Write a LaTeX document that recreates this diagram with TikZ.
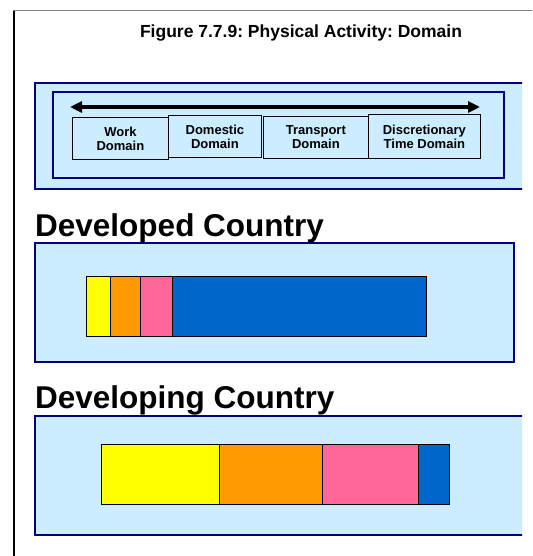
\documentclass[tikz,border=0pt]{standalone}
\usepackage{fontspec}
\setmainfont{Liberation Sans}
\usetikzlibrary{arrows.meta}
\frenchspacing

\definecolor{panelcolor}{RGB}{204, 236, 255}
\definecolor{panelborder}{RGB}{0, 0, 128}
\definecolor{workcolor}{RGB}{255, 255, 0}
\definecolor{domesticcolor}{RGB}{255, 153, 0}
\definecolor{transportcolor}{RGB}{255, 102, 153}
\definecolor{leisurecolor}{RGB}{0, 102, 204}

\begin{document}
\begin{tikzpicture}[x=1pt, y=-1pt,
    panel/.style={fill = panelcolor, draw = panelborder, line width=1.5pt},
    domainbox/.style={draw, fill = panelcolor, line width=0.8pt, inner sep=0pt, anchor=north west,
        align=center, font=\bfseries\fontsize{13}{14}\selectfont},
    segment/.style={draw, line width=1.2pt, inner sep=0pt, anchor=north west},
    heading/.style={anchor=base west, inner sep=0pt, font=\bfseries\fontsize{31.5}{33}\selectfont},
    spanarrow/.style={line width=4pt, {Triangle[length=12pt,width=11pt]}-{Triangle[length=12pt,width=11pt]}}
    ]
    \useasboundingbox (0,0) rectangle (532,556);

    % Define frame
    \draw[gray, line width=1pt] (13,11) -- (532,11);
    \draw[line width=2pt] (14,11) -- (14,556);

    \node[anchor=base, inner sep=0pt, font=\bfseries\fontsize{17.5}{20}\selectfont] (title) at (301,38)
        {Figure 7.7.9: Physical Activity: Domain};

    % Define panels
    \begin{scope}
        \clip (0,0) rectangle (522,556);
        \draw[panel] (35,83) rectangle (540,189);
        \draw[panel] (35,416) rectangle (540,535);
    \end{scope}
    \draw[panel, line width=1.2pt] (53,92) rectangle (504,178);
    \draw[panel] (35,243) rectangle (514,362);

    % Define domains
    \coordinate (arrowL) at (70,107);
    \coordinate (arrowR) at (480,107);
    \draw[spanarrow] (arrowL) -- (arrowR);
    \node[domainbox, minimum width=96pt, minimum height=42pt] (work) at (72,117) {Work\\Domain};
    \node[domainbox, minimum width=93pt, minimum height=42pt] (domestic) at (168,115) {Domestic\\Domain};
    \node[domainbox, minimum width=105pt, minimum height=42pt] (transport) at (263,116) {Transport\\Domain};
    \node[domainbox, minimum width=112pt, minimum height=44pt] (leisure) at (368,114) {Discretionary\\Time Domain};

    % Define bars
    \node[heading] (developed) at (35,236) {Developed Country};
    \foreach [count = \i] \xa/\xb/\col in {86/110/workcolor, 110/140/domesticcolor,
        140/172/transportcolor, 172/426/leisurecolor}{
        \node[segment, fill = \col, minimum width={(\xb-\xa)*1pt}, minimum height=60pt]
            (dev\i) at (\xa,276) {};
    }

    \node[heading] (developing) at (35,408) {Developing Country};
    \foreach [count = \i] \xa/\xb/\col in {101/219/workcolor, 219/322/domesticcolor,
        322/418/transportcolor, 418/449/leisurecolor}{
        \node[segment, fill = \col, minimum width={(\xb-\xa)*1pt}, minimum height=60pt]
            (dvg\i) at (\xa,444) {};
    }
\end{tikzpicture}
\end{document}
